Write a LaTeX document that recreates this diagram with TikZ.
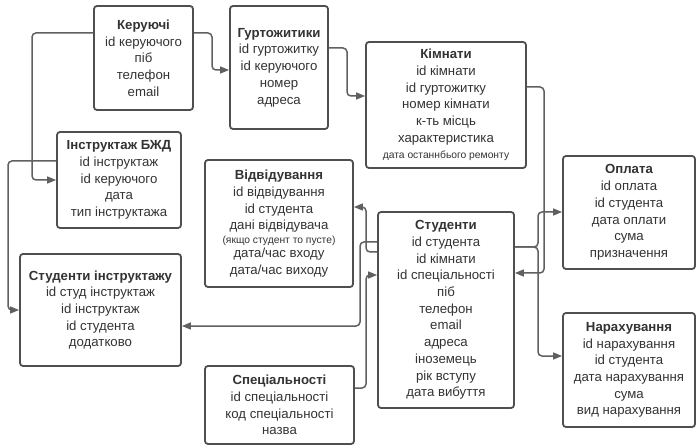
\documentclass[tikz,border=0pt]{standalone}
\usepackage{fontspec}
\setmainfont{Liberation Sans}
\usetikzlibrary{arrows.meta}
\definecolor{txt}{HTML}{333333}
\definecolor{edge}{HTML}{4F4F4F}
\definecolor{wire}{HTML}{606060}
\tikzset{
  entity/.style={draw=edge, line width=1.8pt, rounded corners=3pt, fill=white,
    align=center, text=txt, inner sep=0pt,
    font=\fontsize{13.2}{16.7}\selectfont},
  conn/.style={draw=wire, line width=1.5pt, rounded corners=4pt,
    -{Triangle[length=9pt,width=7pt]}},
}
\newcommand{\smalltxt}[1]{{\fontsize{10.3}{12}\selectfont #1}}
\begin{document}
\begin{tikzpicture}[x=1pt,y=-1pt]
\useasboundingbox[fill=white] (0,0) rectangle (696,446);

\node[entity, minimum width=99, minimum height=104] (ker) at (143.5,58)
  {\textbf{Керуючі}\\id керуючого\\піб\\телефон\\email};
\node[entity, minimum width=98, minimum height=123] (gurt) at (279,67.5)
  {\textbf{Гуртожитики}\\id гуртожитку\\id керуючого\\номер\\адреса};
\node[entity, minimum width=160, minimum height=126] (kim) at (446,105)
  {\textbf{Кімнати}\\id кімнати\\id гуртожитку\\номер кімнати\\к-ть місць\\характеристика\\\smalltxt{дата останнбього ремонту}};
\node[entity, minimum width=124, minimum height=96] (instr) at (119,180)
  {\textbf{Інструктаж БЖД}\\id інструктаж\\id керуючого\\дата\\тип інструктажа};
\node[entity, minimum width=148, minimum height=127] (vidv) at (279,223.5)
  {\textbf{Відвідування}\\id відвідування\\id студента\\дані відвідувача\\[-3pt]\smalltxt{(якщо студент то пусте)}\\[-3pt]дата/час входу\\дата/час виходу};
\node[entity, minimum width=136, minimum height=196] (stud) at (446,310)
  {\textbf{Студенти}\\id студента\\id кімнати\\id спеціальності\\піб\\телефон\\email\\адреса\\іноземець\\рік вступу\\дата вибуття};
\node[entity, minimum width=132, minimum height=113] (opl) at (629,212.5)
  {\textbf{Оплата}\\id оплата\\id студента\\дата оплати\\сума\\призначення};
\node[entity, minimum width=132, minimum height=114] (nar) at (629,370)
  {\textbf{Нарахування}\\id нарахування\\id студента\\дата нарахування\\сума\\вид нарахування};
\node[entity, minimum width=161, minimum height=112] (si) at (100.5,310)
  {\textbf{Студенти інструктажу}\\id студ інструктаж\\id інструктаж\\id студента\\додатково};
\node[entity, minimum width=149, minimum height=78] (spec) at (279.5,405)
  {\textbf{Спеціальності}\\id спеціальності\\код спеціальності\\назва};

% connectors
\draw[conn] (ker.east |- 0,33) -- (212,33) -- (212,70) -- (gurt.west |- 0,70);
\draw[conn] (gurt.east |- 0,48) -- (347,48) -- (347,96) -- (kim.west |- 0,96);
\draw[conn] (ker.west |- 0,33) -- (32,33) -- (32,180) -- (instr.west |- 0,180);
\draw[conn] (instr.west |- 0,161) -- (8,161) -- (8,310) -- (si.west |- 0,310);
\draw[conn] (kim.east |- 0,87) -- (544,87) -- (544,273) -- (stud.east |- 0,273);
\draw[conn] (stud.east |- 0,247) -- (538,247) -- (538,212) -- (opl.west |- 0,212);
\draw[conn] (stud.east |- 0,247) -- (538,247) -- (538,356) -- (nar.west |- 0,356);
\draw[conn] (stud.west |- 0,252) -- (366,252) -- (366,207) -- (vidv.east |- 0,207);
\draw[conn] (stud.west |- 0,242) -- (360,242) -- (360,326) -- (si.east |- 0,326);
\draw[conn] (spec.east |- 0,388) -- (366,388) -- (366,275) -- (stud.west |- 0,275);
\end{tikzpicture}
\end{document}
